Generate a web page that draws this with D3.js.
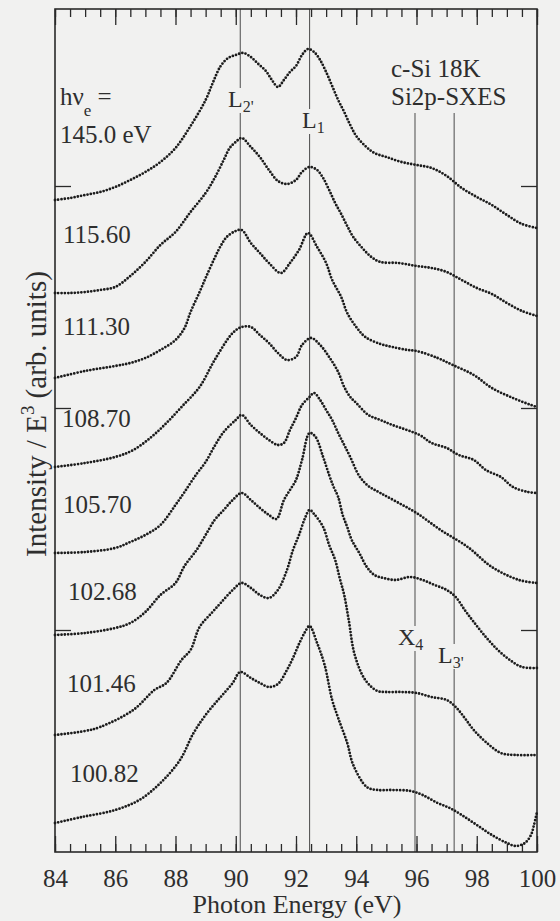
<!DOCTYPE html>
<html>
<head>
<meta charset="utf-8">
<script src="https://cdn.jsdelivr.net/npm/d3@7"></script>
<style>
  html, body { margin: 0; padding: 0; background: #f1f1f0; }
  svg { display: block; }
  text { font-family: "Liberation Serif", "Times New Roman", serif; fill: #2e2e2e; }
</style>
</head>
<body>
<svg id="chart" width="560" height="921"></svg>
<script>
// Si 2p soft X-ray emission spectra of crystalline Si at 18 K,
// one trace per excitation energy (traces offset vertically, arbitrary units).
const energyTicks = [84, 86, 88, 90, 92, 94, 96, 98, 100];
const minorTicks = d3.range(84, 100.001, 0.5);
const offsetTicks = [222, 444, 666];

const excitationLabels = ["145.0 eV", "115.60", "111.30", "108.70", "105.70", "102.68", "101.46", "100.82"];

// [photon energy (eV), intensity / E^3 incl. offset]
const hv145 = [[84,652],[84.5,654],[85,657],[85.5,660],[86,665],[86.5,672],[87,680],[87.5,690],[88,704],[88.5,726],[89,752],[89.25,770],[89.5,786],[89.75,794],[90,797],[90.25,799],[90.5,795],[90.75,788],[91,781],[91.2,772],[91.4,765],[91.6,772],[91.8,780],[92,786],[92.2,797],[92.4,803],[92.6,800],[92.8,792],[93,780],[93.2,766],[93.4,752],[93.6,740],[93.8,727],[94,716],[94.3,706],[94.6,699],[95,695],[95.5,690],[96,687],[96.5,684],[97,676],[97.5,664],[98,655],[98.5,647],[99,637],[99.5,628],[100,624]];
const hv115_60 = [[84,559],[84.5,559],[85,560],[85.5,562],[86,565],[86.5,576],[87,590],[87.5,607],[88,620],[88.5,640],[89,659],[89.3,674],[89.6,692],[89.8,704],[90,710],[90.2,714],[90.5,705],[90.8,695],[91.1,682],[91.4,671],[91.7,668],[92,672],[92.2,680],[92.45,685],[92.7,682],[92.9,674],[93.1,662],[93.3,649],[93.5,638],[93.7,626],[93.9,615],[94.2,604],[94.5,595],[94.8,590],[95.4,589],[96,586],[96.5,584],[97,580],[97.5,572],[98,564],[98.5,558],[99,549],[99.5,541],[100,536]];
const hv111_30 = [[84,474],[85,481],[86,486],[86.5,489],[87,494],[87.5,502],[88,512],[88.3,524],[88.5,540],[88.8,560],[89,574],[89.3,594],[89.5,606],[89.7,615],[90,621],[90.2,622],[90.5,609],[90.8,599],[91.1,589],[91.5,579],[91.8,589],[92.1,602],[92.4,619],[92.7,605],[93,589],[93.2,572],[93.5,555],[93.7,539],[94,525],[94.3,515],[94.8,508],[95.2,505],[95.7,502],[96,501],[96.7,494],[97.2,487],[97.9,477],[98.5,464],[99.2,454],[99.8,447],[100,445]];
const hv108_70 = [[84,385],[85,389],[86,395],[86.6,402],[87.2,415],[87.7,429],[88.2,445],[88.8,465],[89.3,492],[89.9,519],[90.2,525],[90.5,525],[90.8,517],[91.1,509],[91.4,499],[91.7,492],[92,495],[92.2,507],[92.5,514],[92.8,507],[93.1,495],[93.4,480],[93.6,465],[93.8,455],[94,449],[94.4,437],[94.8,432],[95.2,427],[96.1,417],[96.5,409],[97,404],[97.4,397],[97.9,392],[98.3,382],[98.8,375],[99.2,365],[99.7,360],[100,359]];
const hv105_70 = [[84,299],[85,300],[86,304],[86.5,310],[87,317],[87.5,327],[88,347],[88.3,360],[88.7,378],[89,390],[89.3,406],[89.6,420],[90,432],[90.2,437],[90.5,427],[90.8,419],[91.1,412],[91.4,407],[91.6,409],[91.8,422],[92,434],[92.2,447],[92.45,455],[92.6,459],[92.8,452],[93,442],[93.2,432],[93.4,419],[93.6,407],[93.8,395],[94.1,376],[94.4,366],[94.8,359],[95.35,350],[96,339],[96.8,322],[97.7,305],[98.5,285],[99.4,272],[100,269]];
const hv102_68 = [[84,217],[85,219],[86,224],[86.5,229],[87,240],[87.5,257],[88,269],[88.3,286],[88.7,302],[89,317],[89.3,332],[89.6,342],[89.9,352],[90.2,359],[90.5,352],[90.8,344],[91.1,337],[91.35,333],[91.6,352],[91.8,362],[92,372],[92.2,392],[92.45,419],[92.65,415],[92.9,395],[93.1,377],[93.25,365],[93.4,355],[93.55,337],[93.7,325],[93.85,312],[94.1,299],[94.35,285],[94.6,277],[94.9,274],[95.3,272],[95.8,275],[96.2,272],[96.6,267],[97,262],[97.3,255],[97.6,242],[97.9,230],[98.3,215],[98.7,202],[99.1,192],[99.5,185],[100,184]];
const hv101_46 = [[84,117],[85,121],[85.5,125],[86.6,142],[87.3,162],[87.7,169],[88.2,192],[88.5,202],[88.8,225],[89.2,239],[89.5,249],[89.9,262],[90.2,269],[90.5,264],[90.8,257],[91.1,254],[91.4,262],[91.7,282],[91.9,302],[92.1,317],[92.3,334],[92.45,342],[92.6,338],[92.9,325],[93.1,307],[93.3,292],[93.45,274],[93.6,257],[93.75,232],[93.95,197],[94.3,172],[94.7,161],[95,160],[95.5,160],[96,159],[96.5,155],[97,152],[97.3,145],[97.6,134],[97.9,122],[98.3,110],[98.8,99],[99.3,97],[100,97]];
const hv100_82 = [[84,29],[84.9,35],[86,42],[86.8,52],[87.5,69],[88.15,92],[88.6,119],[89.05,139],[89.5,155],[89.9,169],[90.15,180],[90.5,174],[90.8,169],[91.1,165],[91.4,168],[91.7,182],[91.9,194],[92.1,208],[92.3,220],[92.45,226],[92.7,209],[92.95,187],[93.2,152],[93.4,134],[93.7,109],[93.9,87],[94.35,65],[94.7,62],[95.2,62],[95.8,61],[96.2,57],[96.7,49],[97.1,44],[97.5,37],[98,27],[98.5,17],[99,9],[99.3,6],[99.6,9],[99.8,17],[99.9,27],[100,40]];

const spectra = [hv145, hv115_60, hv111_30, hv108_70, hv105_70, hv102_68, hv101_46, hv100_82];

// critical-point energies marked by vertical lines
const pointNames = ["L", "L", "X", "L"];
const pointSubs = ["2'", "1", "4", "3'"];
const pointEnergies = [90.15, 92.45, 95.95, 97.25];

// ---- layout ----
const W = 560, H = 921;
const plot = { left: 55, right: 537, top: 9, bottom: 852 };
const svg = d3.select("#chart");
svg.append("rect").attr("width", W).attr("height", H).attr("fill", "#f1f1f0");

const x = d3.scaleLinear().domain([84, 100]).range([plot.left, plot.right]);
const y = d3.scaleLinear().domain([0, 843]).range([plot.bottom, plot.top]);

const ink = "#2a2a2a";

// label positions (px) for each trace label
const labelPos = [[60,143],[63,243],[63,335],[62,427],[63,513],[68,600],[67,692],[70,782]];
// label positions (px) for the critical-point markers
const pointLabelPos = [[228,107],[302,128],[398,645],[438,663]];

// ---- critical-point labels first so lines can stop around them ----
const ptLabels = svg.append("g");
const boxes = pointNames.map((n, i) => {
  const t = ptLabels.append("text")
    .attr("x", pointLabelPos[i][0]).attr("y", pointLabelPos[i][1])
    .attr("font-size", 24);
  t.append("tspan").text(n);
  t.append("tspan").attr("font-size", 16).attr("dy", 5).text(pointSubs[i]);
  return t.node().getBBox();
});

// vertical marker lines, broken where their label sits
const lineStart = [plot.top, plot.top, 113, 113];
pointEnergies.forEach((e, i) => {
  const px = x(e);
  const b = boxes[i];
  const segs = [[lineStart[i], b.y + 2], [b.y + b.height - 2, plot.bottom]];
  segs.forEach(s => {
    svg.append("line")
      .attr("x1", px).attr("x2", px).attr("y1", s[0]).attr("y2", s[1])
      .attr("stroke", "#5a5a5a").attr("stroke-width", 1.1);
  });
});

// ---- axes (inward ticks on all four sides) ----
function styleAxis(g) {
  g.select(".domain").remove();
  g.selectAll(".tick line").attr("stroke", ink).attr("stroke-width", 1.3);
}
svg.append("g").attr("transform", `translate(0,${plot.bottom})`)
  .call(d3.axisBottom(x).tickValues(minorTicks).tickSizeInner(-8).tickSizeOuter(0).tickFormat(""))
  .call(styleAxis);
const bottomMajor = svg.append("g").attr("transform", `translate(0,${plot.bottom})`)
  .call(d3.axisBottom(x).tickValues(energyTicks).tickSizeInner(-16).tickSizeOuter(0).tickFormat(d3.format("d")))
  .call(styleAxis);
bottomMajor.selectAll(".tick text")
  .attr("y", 35).attr("dy", null)
  .attr("font-size", 25).attr("font-family", "Liberation Serif, Times New Roman, serif")
  .attr("fill", "#2e2e2e");

svg.append("g").attr("transform", `translate(0,${plot.top})`)
  .call(d3.axisTop(x).tickValues(minorTicks).tickSizeInner(-8).tickSizeOuter(0).tickFormat(""))
  .call(styleAxis);
svg.append("g").attr("transform", `translate(0,${plot.top})`)
  .call(d3.axisTop(x).tickValues(energyTicks).tickSizeInner(-16).tickSizeOuter(0).tickFormat(""))
  .call(styleAxis);

svg.append("g").attr("transform", `translate(${plot.left},0)`)
  .call(d3.axisLeft(y).tickValues(offsetTicks).tickSizeInner(-16).tickSizeOuter(0).tickFormat(""))
  .call(styleAxis);
svg.append("g").attr("transform", `translate(${plot.right},0)`)
  .call(d3.axisRight(y).tickValues(offsetTicks).tickSizeInner(-16).tickSizeOuter(0).tickFormat(""))
  .call(styleAxis);

// frame
svg.append("rect")
  .attr("x", plot.left).attr("y", plot.top)
  .attr("width", plot.right - plot.left).attr("height", plot.bottom - plot.top)
  .attr("fill", "none").attr("stroke", ink).attr("stroke-width", 1.6);

// ---- spectra drawn as dotted traces ----
const line = d3.line()
  .x(d => x(d[0])).y(d => y(d[1]))
  .curve(d3.curveCatmullRom.alpha(0.5));

svg.append("g").selectAll("path")
  .data(spectra).join("path")
  .attr("d", line)
  .attr("fill", "none")
  .attr("stroke", "#1c1c1c")
  .attr("stroke-width", 2.8)
  .attr("stroke-linecap", "round")
  .attr("stroke-dasharray", "0 3.3");

// ---- trace labels ----
const hv = svg.append("text").attr("x", 60).attr("y", 105).attr("font-size", 25);
hv.append("tspan").text("hν");
hv.append("tspan").attr("font-size", 17).attr("dy", 11).text("e");
hv.append("tspan").attr("dy", -11).text(" =");

svg.append("g").selectAll("text")
  .data(excitationLabels).join("text")
  .attr("x", (d, i) => labelPos[i][0])
  .attr("y", (d, i) => labelPos[i][1])
  .attr("font-size", 25)
  .text(d => d);

// sample / technique
svg.append("text").attr("x", 391).attr("y", 77).attr("font-size", 25).text("c-Si 18K");
svg.append("text").attr("x", 391).attr("y", 105).attr("font-size", 25).text("Si2p-SXES");

// ---- axis titles ----
svg.append("text")
  .attr("x", (plot.left + plot.right) / 2 + 1).attr("y", 913)
  .attr("text-anchor", "middle").attr("font-size", 26)
  .text("Photon Energy (eV)");

const yt = svg.append("text")
  .attr("transform", "translate(46,414) rotate(-90)")
  .attr("text-anchor", "middle").attr("font-size", 29);
yt.append("tspan").text("Intensity / E");
yt.append("tspan").attr("font-size", 19).attr("dy", -12).text("3");
yt.append("tspan").attr("dy", 12).text(" (arb. units)");
</script>
</body>
</html>
